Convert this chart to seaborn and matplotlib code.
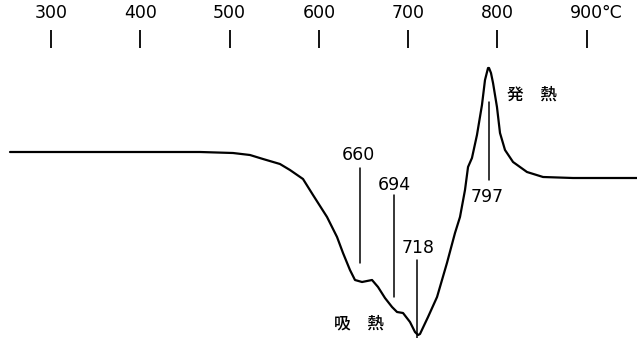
import numpy as np
import pandas as pd
import matplotlib
matplotlib.use("Agg")
import matplotlib.pyplot as plt
import seaborn as sns

# DTA curve (temperature in degC, signal in arbitrary units)
temp = [254.1, 354.9, 466.9, 503.8, 522.8, 537.4, 556.4, 567.6, 582.2, 593.4,
        609.1, 620.3, 627.0, 634.8, 640.4, 648.3, 653.9, 659.5, 666.2, 674.0,
        681.9, 687.5, 694.2, 702.0, 707.6, 711.0, 713.2, 722.2, 732.3, 743.4,
        752.4, 758.0, 763.6, 767.0, 771.4, 777.0, 782.6, 786.0, 789.4, 790.5,
        792.7, 795.0, 799.4, 802.8, 808.4, 817.4, 833.0, 851.0, 884.5, 956.2]
signal = [186, 186, 186, 185, 183, 179, 174, 168, 159, 143,
          121, 101, 85, 68, 58, 56, 57, 58, 51, 40,
          31, 26, 25, 16, 6, 3, 4, 21, 41, 75,
          105, 121, 148, 171, 180, 203, 233, 258, 270, 270,
          265, 255, 231, 205, 188, 176, 166, 161, 160, 160]

# top temperature scale
tick_temps = [300, 400, 500, 600, 700, 800, 900]
tick_labels = ["300", "400", "500", "600", "700", "800", "900"]

# peak markers: where the line sits, its span and the label
peak_labels = ["660", "694", "718", "797"]
peak_pos = [646.0, 684.1, 709.9, 790.5]
peak_lo = [75, 41, 0, 158]
peak_hi = [170, 143, 78, 236]
label_pos = [(643.8, 183), (684.0, 153), (711.0, 90), (788.0, 141)]

df = pd.DataFrame({"temp": temp, "signal": signal})

sns.set_style("white")
plt.rcParams["font.family"] = ["DejaVu Sans", "Noto Sans CJK JP"]
plt.rcParams["text.color"] = "black"
plt.rcParams["xtick.color"] = "black"
plt.rcParams["xtick.labelcolor"] = "black"
cjk = ["Noto Sans CJK JP", "DejaVu Sans"]

fig = plt.figure(figsize=(6.37, 3.38), dpi=100)
ax = fig.add_axes([0, 0, 1, 290 / 338])

sns.lineplot(data=df, x="temp", y="signal", ax=ax, color="black",
             linewidth=1.6, sort=False)

for t, lo, hi in zip(peak_pos, peak_lo, peak_hi):
    ax.plot([t, t], [lo, hi], color="black", linewidth=1.1)
for lab, (tx, ty) in zip(peak_labels, label_pos):
    ax.text(tx, ty, lab, ha="center", va="center", fontsize=12.5,
            color="black")

ax.text(645, 15, "吸\u3000熱", ha="center", va="center", fontsize=12,
        family=cjk, fontweight="medium", color="black")
ax.text(838.6, 243, "発\u3000熱", ha="center", va="center", fontsize=12,
        family=cjk, fontweight="medium", color="black")

ax.set_xlim(300 - 51 / 0.893, 300 + 586 / 0.893)
ax.set_ylim(0, 290)
ax.xaxis.tick_top()
ax.set_xticks(tick_temps)
ax.set_xticklabels(tick_labels)
ax.tick_params(axis="x", length=13, width=1.3, pad=5.5, labelsize=12.5,
               direction="out", color="black", labelcolor="black",
               top=True, bottom=False)
ax.set_yticks([])
ax.set_xlabel("")
ax.set_ylabel("")
for s in ax.spines.values():
    s.set_visible(False)

ax.annotate("°C", xy=(900, 1), xycoords=("data", "axes fraction"),
            xytext=(10.5, 18.5), textcoords="offset points",
            ha="left", va="bottom", fontsize=12.5, color="black")

fig.savefig("out.png", dpi=100)
